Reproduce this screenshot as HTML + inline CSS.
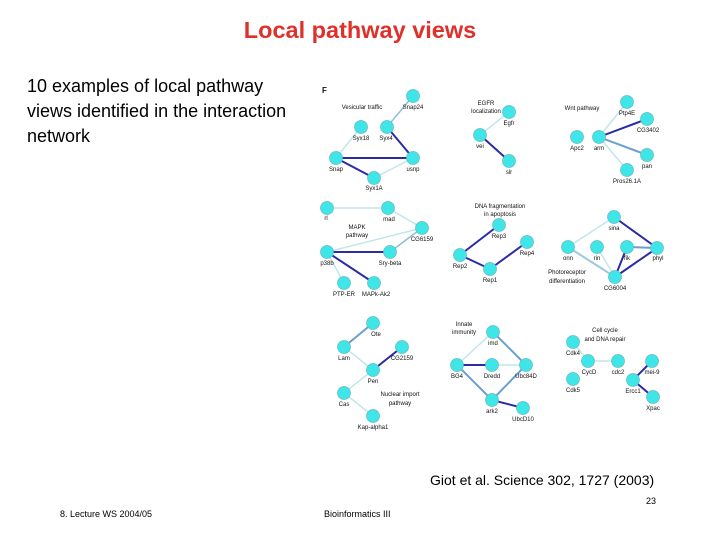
<!DOCTYPE html>
<html><head><meta charset="utf-8"><style>
body{margin:0;background:#fff;width:720px;height:540px;overflow:hidden;position:relative;font-family:"Liberation Sans",Arial,sans-serif}
.t{position:absolute;white-space:nowrap}
</style></head><body>
<div class="t" style="left:0;width:720px;top:17px;text-align:center;color:#e0302a;font-size:23.5px;font-weight:bold">Local pathway views</div>
<div class="t" style="left:27px;top:74px;font-size:18px;line-height:25px;color:#000">10 examples of local pathway<br>views identified in the interaction<br>network</div>
<div class="t" style="left:430px;top:472px;font-size:14px">Giot et al. Science 302, 1727 (2003)</div>
<div class="t" style="left:646px;top:496px;font-size:9px">23</div>
<div class="t" style="left:60px;top:509px;font-size:9px">8. Lecture WS 2004/05</div>
<div class="t" style="left:324px;top:509px;font-size:9px">Bioinformatics III</div>
<svg width="720" height="540" style="position:absolute;left:0;top:0" font-family="Liberation Sans,Arial,sans-serif" font-size="6">
<g stroke-linecap="round">
<g stroke="#bfe7ec" stroke-width="1.5">
<line x1="413" y1="96" x2="387" y2="127" stroke="#8fbfd8"/>
<line x1="361" y1="127" x2="336" y2="158"/>
<line x1="413" y1="158" x2="374" y2="178"/>
<line x1="509" y1="112" x2="480" y2="135"/>
<line x1="627" y1="102" x2="599" y2="137"/>
<line x1="627" y1="170" x2="599" y2="137"/>
<line x1="327" y1="208" x2="388" y2="208"/>
<line x1="388" y1="208" x2="422" y2="228"/>
<line x1="422" y1="228" x2="327" y2="252"/>
<line x1="422" y1="228" x2="390" y2="252" stroke="#8fbfd8"/>
<line x1="327" y1="252" x2="344" y2="283"/>
<line x1="614" y1="217" x2="568" y2="247"/>
<line x1="597" y1="247" x2="615" y2="277"/>
<line x1="344" y1="347" x2="373" y2="370"/>
<line x1="373" y1="370" x2="344" y2="393"/>
<line x1="344" y1="393" x2="373" y2="416"/>
<line x1="493" y1="332" x2="457" y2="365"/>
<line x1="492" y1="365" x2="526" y2="365"/>
<line x1="588" y1="361" x2="618" y2="361"/>
<line x1="573" y1="342" x2="588" y2="361"/>
</g>
<g stroke="#6b9fd0" stroke-width="2">
<line x1="599" y1="137" x2="647" y2="155"/>
<line x1="568" y1="247" x2="615" y2="277" stroke="#9cc8e0"/>
<line x1="627" y1="247" x2="657" y2="248"/>
<line x1="344" y1="347" x2="373" y2="323"/>
<line x1="493" y1="332" x2="526" y2="365"/>
<line x1="457" y1="365" x2="492" y2="400"/>
<line x1="526" y1="365" x2="492" y2="400"/>
</g>
<g stroke="#2b2ba5" stroke-width="2">
<line x1="387" y1="127" x2="413" y2="158"/>
<line x1="336" y1="158" x2="413" y2="158"/>
<line x1="336" y1="158" x2="374" y2="178"/>
<line x1="480" y1="135" x2="509" y2="161"/>
<line x1="599" y1="137" x2="647" y2="119"/>
<line x1="327" y1="252" x2="390" y2="252"/>
<line x1="327" y1="252" x2="374" y2="283"/>
<line x1="460" y1="255" x2="499" y2="225"/>
<line x1="460" y1="255" x2="490" y2="269"/>
<line x1="490" y1="269" x2="527" y2="242"/>
<line x1="614" y1="217" x2="657" y2="248"/>
<line x1="657" y1="248" x2="615" y2="277"/>
<line x1="627" y1="247" x2="615" y2="277"/>
<line x1="373" y1="370" x2="402" y2="347"/>
<line x1="457" y1="365" x2="492" y2="365"/>
<line x1="492" y1="400" x2="523" y2="408"/>
<line x1="633" y1="380" x2="652" y2="361"/>
<line x1="633" y1="380" x2="653" y2="397"/>
</g>
</g>
<g fill="#3fe6e8" stroke="#6ab8c0" stroke-width="0.7">
<circle cx="413" cy="96" r="6.5"/><circle cx="361" cy="127" r="6.5"/><circle cx="387" cy="127" r="6.5"/><circle cx="336" cy="158" r="6.5"/><circle cx="413" cy="158" r="6.5"/><circle cx="374" cy="178" r="6.5"/>
<circle cx="509" cy="112" r="6.5"/><circle cx="480" cy="135" r="6.5"/><circle cx="509" cy="161" r="6.5"/>
<circle cx="627" cy="102" r="6.5"/><circle cx="647" cy="119" r="6.5"/><circle cx="577" cy="137" r="6.5"/><circle cx="599" cy="137" r="6.5"/><circle cx="647" cy="155" r="6.5"/><circle cx="627" cy="170" r="6.5"/>
<circle cx="327" cy="208" r="6.5"/><circle cx="388" cy="208" r="6.5"/><circle cx="422" cy="228" r="6.5"/><circle cx="327" cy="252" r="6.5"/><circle cx="390" cy="252" r="6.5"/><circle cx="344" cy="283" r="6.5"/><circle cx="374" cy="283" r="6.5"/>
<circle cx="499" cy="225" r="6.5"/><circle cx="527" cy="242" r="6.5"/><circle cx="460" cy="255" r="6.5"/><circle cx="490" cy="269" r="6.5"/>
<circle cx="614" cy="217" r="6.5"/><circle cx="657" cy="248" r="6.5"/><circle cx="615" cy="277" r="6.5"/><circle cx="568" cy="247" r="6.5"/><circle cx="597" cy="247" r="6.5"/><circle cx="627" cy="247" r="6.5"/>
<circle cx="373" cy="323" r="6.5"/><circle cx="344" cy="347" r="6.5"/><circle cx="402" cy="347" r="6.5"/><circle cx="373" cy="370" r="6.5"/><circle cx="344" cy="393" r="6.5"/><circle cx="373" cy="416" r="6.5"/>
<circle cx="493" cy="332" r="6.5"/><circle cx="457" cy="365" r="6.5"/><circle cx="492" cy="365" r="6.5"/><circle cx="526" cy="365" r="6.5"/><circle cx="492" cy="400" r="6.5"/><circle cx="523" cy="408" r="6.5"/>
<circle cx="573" cy="342" r="6.5"/><circle cx="588" cy="361" r="6.5"/><circle cx="618" cy="361" r="6.5"/><circle cx="652" cy="361" r="6.5"/><circle cx="633" cy="380" r="6.5"/><circle cx="573" cy="379" r="6.5"/><circle cx="653" cy="397" r="6.5"/>
</g>
<g fill="#111" text-anchor="middle">
<text x="322" y="93" font-size="8" font-weight="bold" text-anchor="start">F</text>
<text x="362" y="109">Vesicular traffic</text>
<text x="413" y="109">Snap24</text><text x="361" y="140">Syx18</text><text x="386" y="140">Syx4</text><text x="336" y="171">Snap</text><text x="413" y="171">usnp</text><text x="374" y="190">Syx1A</text>
<text x="486" y="105">EGFR</text><text x="486" y="113">localization</text>
<text x="509" y="125">Egfr</text><text x="480" y="148">vei</text><text x="509" y="174">slr</text>
<text x="582" y="110">Wnt pathway</text>
<text x="627" y="115">Ptp4E</text><text x="648" y="132">CG3402</text><text x="577" y="150">Apc2</text><text x="599" y="150">arm</text><text x="647" y="168">pan</text><text x="627" y="183">Pros26.1A</text>
<text x="357" y="229">MAPK</text><text x="357" y="237">pathway</text>
<text x="326" y="220">rl</text><text x="389" y="221">mad</text><text x="422" y="241">CG6159</text><text x="327" y="265">p38b</text><text x="390" y="265">Sry-beta</text><text x="344" y="296">PTP-ER</text><text x="376" y="296">MAPk-Ak2</text>
<text x="500" y="208">DNA fragmentation</text><text x="500" y="216">in apoptosis</text>
<text x="499" y="238">Rep3</text><text x="527" y="255">Rep4</text><text x="460" y="268">Rep2</text><text x="490" y="282">Rep1</text>
<text x="567" y="274">Photoreceptor</text><text x="567" y="283">differentiation</text>
<text x="614" y="230">sina</text><text x="658" y="260">phyl</text><text x="615" y="290">CG6004</text><text x="568" y="260">onn</text><text x="597" y="260">rin</text><text x="627" y="260">fik</text>
<text x="376" y="336">Ote</text><text x="344" y="360">Lam</text><text x="402" y="360">CG2159</text><text x="373" y="383">Pen</text><text x="344" y="406">Cas</text><text x="373" y="429">Kap-alpha1</text>
<text x="400" y="396">Nuclear import</text><text x="400" y="405">pathway</text>
<text x="464" y="326">Innate</text><text x="464" y="334">immunity</text>
<text x="493" y="345">imd</text><text x="457" y="378">BG4</text><text x="492" y="378">Dredd</text><text x="526" y="378">Ubc84D</text><text x="492" y="413">ark2</text><text x="523" y="421">UbcD10</text>
<text x="605" y="332">Cell cycle</text><text x="605" y="341">and DNA repair</text>
<text x="573" y="355">Cdk4</text><text x="589" y="374">CycD</text><text x="618" y="374">cdc2</text><text x="652" y="374">mei-9</text><text x="633" y="393">Ercc1</text><text x="573" y="392">Cdk5</text><text x="653" y="410">Xpac</text>
</g>
</svg>
</body></html>
